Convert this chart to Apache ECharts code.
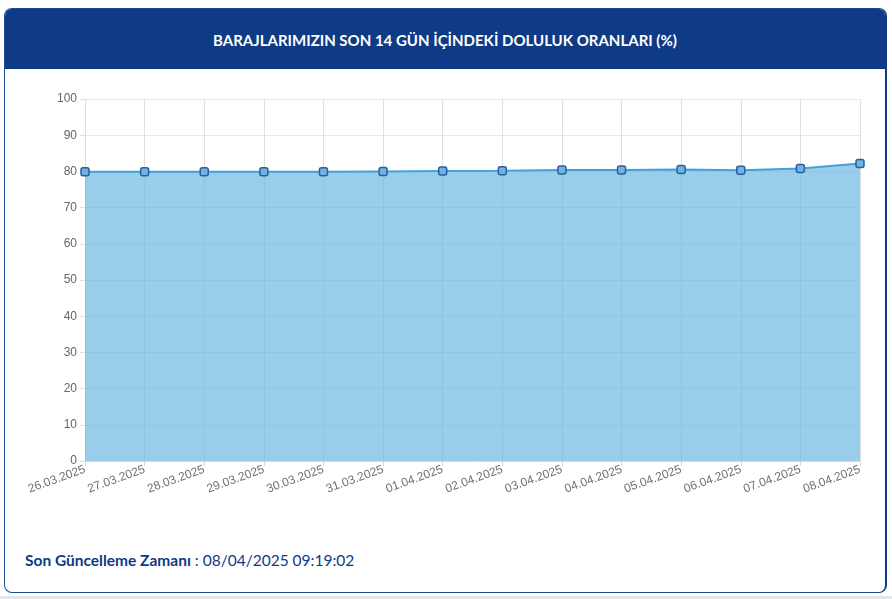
<!DOCTYPE html>
<html>
<head>
<meta charset="utf-8">
<script src="https://cdn.jsdelivr.net/npm/echarts@6/dist/echarts.min.js"></script>
<style>
  html,body{margin:0;padding:0;width:892px;height:599px;background:#fff;overflow:hidden;font-family:Lato,"Noto Sans",sans-serif;}
  #card{position:absolute;left:4px;top:8px;width:883px;height:585px;border:1px solid #1a4a93;border-right:2px solid #0f3a85;border-radius:8px;box-sizing:border-box;background:#fff;overflow:hidden;}
  #hdr{position:absolute;left:0;top:0;width:100%;height:60px;background:#0f3a85;color:#fff;font-weight:bold;font-size:15px;text-align:center;line-height:62px;}
  #foot{position:absolute;left:25px;top:551px;font-size:15.5px;color:#0f3a85;}
  #foot b{font-weight:bold;}
  #strip{position:absolute;left:0;top:596px;width:892px;height:3px;background:#e3e5e8;}
  #chart{position:absolute;left:0;top:0;width:892px;height:599px;}
</style>
</head>
<body>
<div id="card"><div id="hdr">BARAJLARIMIZIN SON 14 GÜN İÇİNDEKİ DOLULUK ORANLARI (%)</div></div>
<div id="foot"><b>Son Güncelleme Zamanı</b> : 08/04/2025 09:19:02</div>
<div id="strip"></div>
<div id="chart"></div>
<script>
const categories = ["26.03.2025","27.03.2025","28.03.2025","29.03.2025","30.03.2025","31.03.2025","01.04.2025","02.04.2025","03.04.2025","04.04.2025","05.04.2025","06.04.2025","07.04.2025","08.04.2025"];
const fillRates = [79.9,79.9,79.9,79.9,79.9,80.0,80.1,80.2,80.4,80.4,80.5,80.3,80.8,82.2];
const yTicks = {min:0,max:100,interval:10};

const chart = echarts.init(document.getElementById('chart'), null, {renderer:'canvas'});
chart.setOption({
  animation:false,
  grid:{left:85,right:32,top:99,bottom:138},
  xAxis:{
    type:'category',data:categories,boundaryGap:false,
    axisLine:{show:true,lineStyle:{color:'#d9d9d9'}},
    axisTick:{show:true,alignWithLabel:true,length:5,lineStyle:{color:'#d9d9d9'}},
    axisLabel:{rotate:20,color:'#707070',fontSize:12,fontFamily:'Liberation Sans, Arial, sans-serif',margin:8,interval:0},
    splitLine:{show:true,lineStyle:{color:'#e0e0e0'}}
  },
  yAxis:{
    type:'value',min:yTicks.min,max:yTicks.max,interval:yTicks.interval,
    axisLine:{show:false},
    axisTick:{show:true,length:5,lineStyle:{color:'#e0e0e0'}},
    axisLabel:{color:'#666',fontSize:12,fontFamily:'Liberation Sans, Arial, sans-serif',margin:8},
    splitLine:{show:true,lineStyle:{color:'#e8e8e8'}}
  },
  series:[{
    type:'line',data:fillRates,
    symbol:'roundRect',symbolSize:8,
    itemStyle:{color:'#6fb3e0',borderColor:'#2a5e9e',borderWidth:1.5},
    lineStyle:{color:'#44a0da',width:2},
    areaStyle:{color:'rgba(100,180,225,0.66)',opacity:1}
  }]
});
</script>
</body>
</html>
